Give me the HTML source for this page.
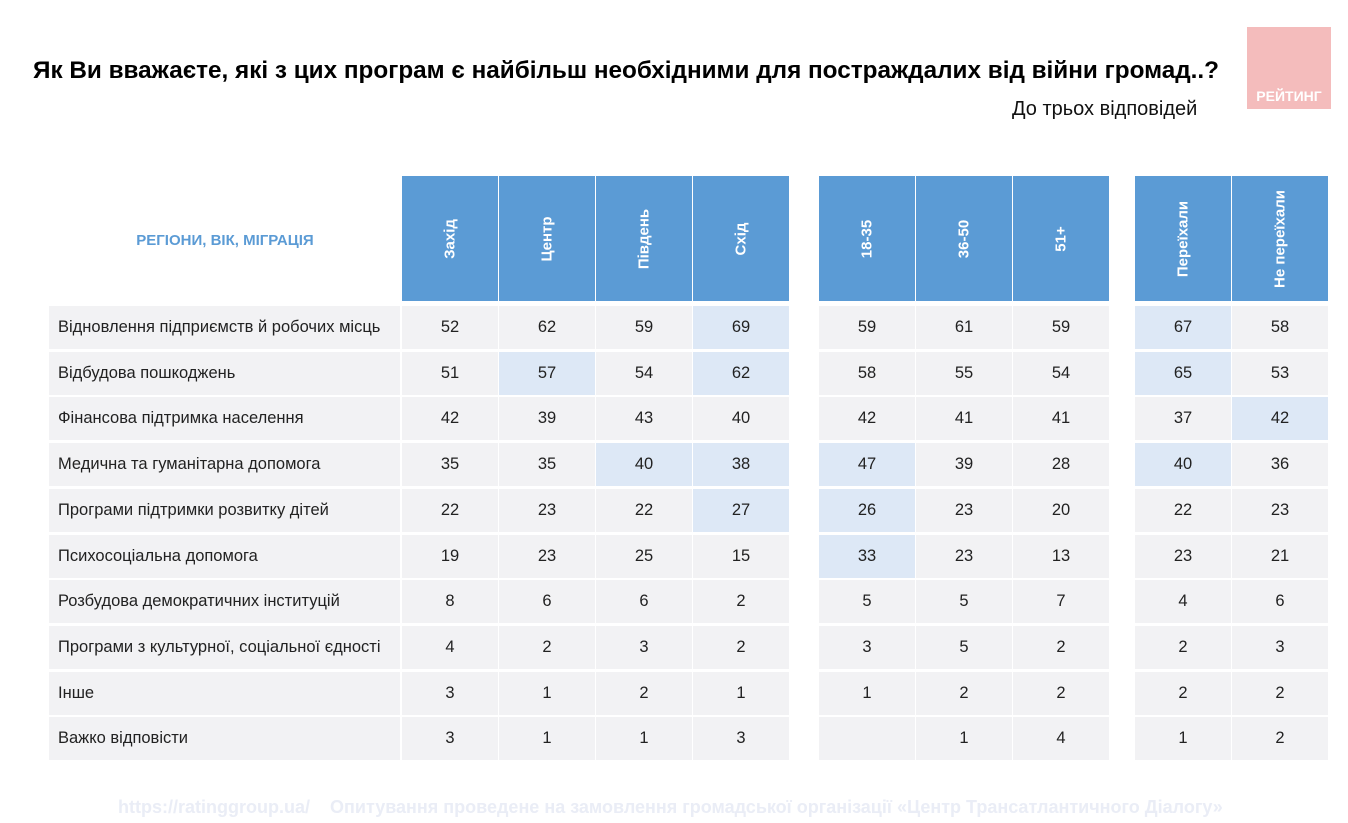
<!DOCTYPE html>
<html><head><meta charset="utf-8">
<style>
body{margin:0;width:1348px;height:823px;background:#fff;position:relative;overflow:hidden;font-family:"Liberation Sans",sans-serif;}
.abs{position:absolute;}
.cell{position:absolute;display:flex;align-items:center;justify-content:center;font-size:16.5px;color:#222;}
.lab{justify-content:flex-start;padding-left:9px;box-sizing:border-box;}
.hd{position:absolute;background:#5b9bd5;}
.hd span{position:absolute;left:50%;top:50%;transform:translate(-50%,-50%) rotate(-90deg);color:#fff;font-weight:bold;font-size:15px;white-space:nowrap;}
</style></head><body>
<div class="abs" style="left:33px;top:57px;font-size:24.3px;font-weight:bold;color:#000;white-space:nowrap;">Як Ви вважаєте, які з цих програм є найбільш необхідними для постраждалих від війни громад..?</div>
<div class="abs" style="left:1012px;top:98px;font-size:20px;color:#111;">До трьох відповідей</div>
<div class="abs" style="left:1247px;top:27px;width:84px;height:82px;background:#f4bcbc;"><div style="position:absolute;bottom:5px;width:100%;text-align:center;color:#fff;font-weight:bold;font-size:14px;">РЕЙТИНГ</div></div>
<div class="abs" style="left:50px;top:232px;width:350px;text-align:center;font-size:15px;font-weight:bold;color:#5b9bd5;">РЕГІОНИ, ВІК, МІГРАЦІЯ</div>
<div class="abs" style="left:118px;top:797px;font-size:18px;font-weight:bold;color:#eaedf6;">https://ratinggroup.ua/</div>
<div class="abs" style="left:330px;top:797px;font-size:18px;font-weight:bold;color:#eaedf6;">Опитування проведене на замовлення громадської організації «Центр Трансатлантичного Діалогу»</div>
<div id="tbl"></div>
<script>
const columns = ["Захід","Центр","Південь","Схід","18-35","36-50","51+","Переїхали","Не переїхали"];
const rowsLabels = ["Відновлення підприємств й робочих місць","Відбудова пошкоджень","Фінансова підтримка населення","Медична та гуманітарна допомога","Програми підтримки розвитку дітей","Психосоціальна допомога","Розбудова демократичних інституцій","Програми з культурної, соціальної єдності","Інше","Важко відповісти"];
const values = [
[52,62,59,69,59,61,59,67,58],
[51,57,54,62,58,55,54,65,53],
[42,39,43,40,42,41,41,37,42],
[35,35,40,38,47,39,28,40,36],
[22,23,22,27,26,23,20,22,23],
[19,23,25,15,33,23,13,23,21],
[8,6,6,2,5,5,7,4,6],
[4,2,3,2,3,5,2,2,3],
[3,1,2,1,1,2,2,2,2],
[3,1,1,3,null,1,4,1,2]
];
const highlights = [[0,3],[0,7],[1,1],[1,3],[1,7],[2,8],[3,2],[3,3],[3,4],[3,7],[4,3],[4,4],[5,4]];
const colX = [402,499,596,693,819,916,1013,1135,1232];
const colW = 96, rowTop = 306, rowPitch = 45.7, rowH = 43;
const tbl = document.getElementById('tbl');
function mk(cls, l, t, w, h, bg){
  const d = document.createElement('div');
  d.className = cls;
  d.style.left = l+'px'; d.style.top = t+'px'; d.style.width = w+'px'; d.style.height = h+'px';
  if(bg) d.style.background = bg;
  tbl.appendChild(d); return d;
}
columns.forEach((c,i)=>{
  const d = mk('hd', colX[i], 176, colW, 125);
  
  
  const s = document.createElement('span'); s.textContent = c; d.appendChild(s);
});
const hl = new Set(highlights.map(h=>h[0]+'_'+h[1]));
rowsLabels.forEach((r,ri)=>{
  const y = rowTop + ri*rowPitch;
  const l = mk('cell lab', 49, y, 351, rowH, '#f2f2f4');
  
  
  l.textContent = r;
  values[ri].forEach((v,ci)=>{
    const c = mk('cell', colX[ci], y, colW, rowH, hl.has(ri+'_'+ci) ? '#dde8f6' : '#f2f2f4');
    
    
    c.textContent = v==null ? '' : v;
  });
});
</script>
</body></html>
